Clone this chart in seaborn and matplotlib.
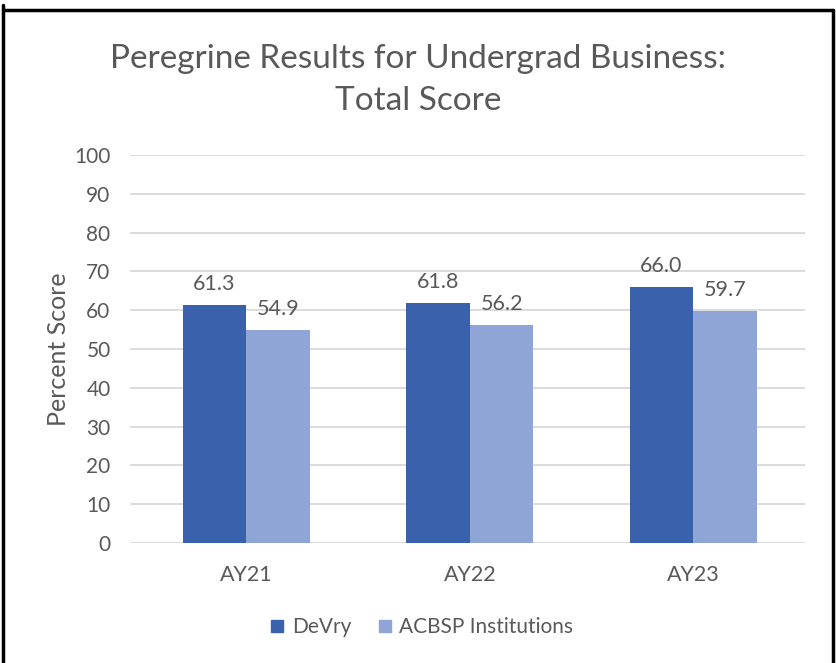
import pandas as pd
import seaborn as sns
import matplotlib.pyplot as plt
from matplotlib.lines import Line2D

years = ['AY21', 'AY22', 'AY23']
devry = [61.3, 61.8, 66.0]
acbsp = [54.9, 56.2, 59.7]
groups = ['DeVry', 'ACBSP Institutions']
colors = ['#3A62AC', '#8FA5D5']
text_color = '#595959'

data = pd.DataFrame({
    'year': years * 2,
    'score': devry + acbsp,
    'group': [groups[0]] * 3 + [groups[1]] * 3,
})

sns.set_theme()
sns.set_style('white')
plt.rcParams['font.family'] = ['Lato', 'DejaVu Sans']

fig = plt.figure(figsize=(8.36, 6.63), dpi=100)
ax = fig.add_axes([0.1555, 0.181, 0.8075, 0.585])
sns.barplot(data=data, x='year', y='score', hue='group', palette=colors,
            width=0.57, saturation=1, linewidth=0, ax=ax, legend=False)

for container in ax.containers:
    ax.bar_label(container, fmt='%.1f', padding=8, fontsize=15.5, color=text_color)

ax.set_ylim(0, 100)
ax.set_yticks(range(0, 101, 10))
ax.set_xlim(-0.52, 2.5)
ax.yaxis.grid(True, color='#D9D9D9', linewidth=1.3)
ax.set_axisbelow(True)
for side in ['top', 'right', 'left', 'bottom']:
    ax.spines[side].set_visible(False)
ax.tick_params(axis='y', labelsize=15, colors=text_color, length=0, pad=14)
ax.tick_params(axis='x', labelsize=15.5, colors=text_color, length=0, pad=16)
ax.set_xlabel('')
ax.set_ylabel('Percent Score', fontsize=18, color=text_color, labelpad=3)

fig.text(0.5, 0.911, 'Peregrine Results for Undergrad Business:', ha='center', va='center',
         fontsize=24, color=text_color)
fig.text(0.5, 0.848, 'Total Score', ha='center', va='center', fontsize=24, color=text_color)

handles = [Line2D([], [], marker='s', linestyle='', markersize=9, color=c) for c in colors]
fig.legend(handles, groups, loc='center', bbox_to_anchor=(0.5, 0.054), ncol=2, frameon=False,
           fontsize=15, labelcolor=text_color, handletextpad=0.0, columnspacing=0.9,
           handlelength=1.4)

# outer frame (no bottom edge)
fig.add_artist(Line2D([0.004, 0.004], [0.0, 0.993], color='black', linewidth=2.5, transform=fig.transFigure))
fig.add_artist(Line2D([0.004, 0.996], [0.985, 0.985], color='black', linewidth=2.5, transform=fig.transFigure))
fig.add_artist(Line2D([0.996, 0.996], [0.0, 0.985], color='black', linewidth=2.5, transform=fig.transFigure))

fig.savefig('out.png', dpi=100)
